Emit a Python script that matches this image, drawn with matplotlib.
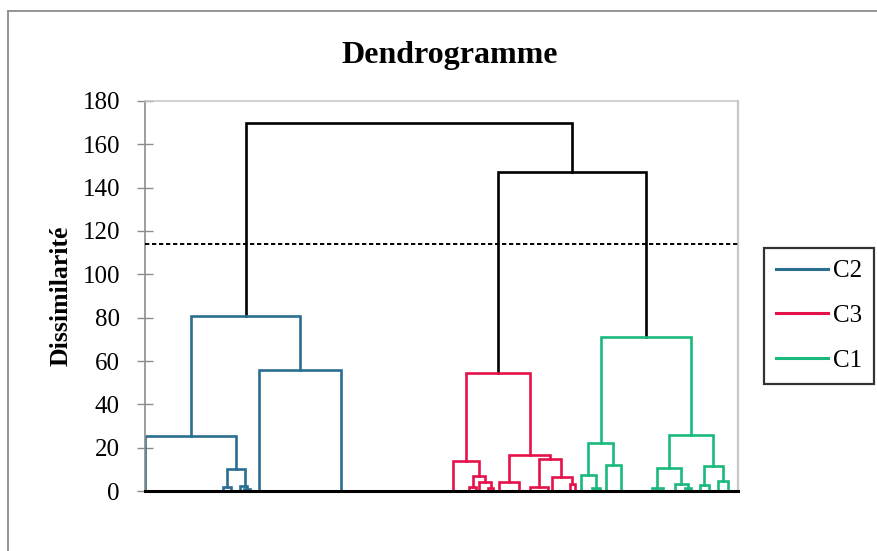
import matplotlib
matplotlib.use("Agg")
import matplotlib.pyplot as plt
from matplotlib.lines import Line2D

# ---- data (x = leaf-axis position, heights = dissimilarity) ----
title = "Dendrogramme"
ylabel = "Dissimilarité"
y_ticks = [0, 20, 40, 60, 80, 100, 120, 140, 160, 180]
cut_height = 114
legend_labels = ["C2", "C3", "C1"]
cluster_colors = {"C2": "#2a6f91", "C3": "#e5124a", "C1": "#19b97c", "top": "#000000"}

# each link: left x, right x, link height, left leg bottom, right leg bottom, cluster
link_xl = [100.7, 353.0,
           45.7, 0.0, 82.0, 78.0, 95.0, 99.0, 114.3,
           320.7, 307.7, 327.7, 324.0, 334.3, 343.0, 364.0, 354.3, 394.0, 385.0, 406.7, 424.5,
           455.7, 443.3, 435.7, 447.0, 460.7, 524.3, 512.3, 507.3, 530.0, 539.6, 559.0, 554.5, 572.5]
link_xr = [427.3, 501.0,
           155.0, 91.0, 100.0, 86.0, 102.0, 105.0, 195.7,
           385.0, 334.3, 340.0, 331.4, 345.7, 348.4, 405.0, 373.7, 416.0, 403.0, 427.3, 430.1,
           546.3, 468.3, 451.0, 455.0, 475.9, 568.3, 536.3, 517.6, 542.6, 545.6, 577.6, 563.5, 582.7]
link_h = [169.7, 147.0,
          81.0, 25.4, 10.0, 2.0, 2.5, 1.0, 56.0,
          54.6, 14.0, 7.0, 2.0, 4.3, 1.5, 16.6, 4.3, 14.6, 2.0, 6.3, 3.2,
          70.9, 22.0, 7.4, 1.5, 12.0, 25.7, 10.8, 1.5, 3.2, 1.5, 11.7, 3.0, 4.8]
link_hl = [81.0, 54.6,
           25.4, 0.0, 2.0, 0.0, 0.0, 0.0, 0.0,
           14.0, 0.0, 2.0, 0.0, 0.0, 0.0, 4.3, 0.0, 2.0, 0.0, 0.0, 0.0,
           22.0, 7.4, 0.0, 0.0, 0.0, 10.8, 1.5, 0.0, 0.0, 0.0, 3.0, 0.0, 0.0]
link_hr = [147.0, 70.9,
           56.0, 10.0, 2.5, 0.0, 1.0, 0.0, 0.0,
           16.6, 7.0, 4.3, 0.0, 2.0, 0.0, 14.6, 0.0, 6.3, 0.0, 3.2, 0.0,
           25.7, 12.0, 1.5, 0.0, 0.0, 11.7, 3.2, 0.0, 1.5, 0.0, 4.8, 0.0, 0.0]
link_cluster = ["top", "top",
                "C2", "C2", "C2", "C2", "C2", "C2", "C2",
                "C3", "C3", "C3", "C3", "C3", "C3", "C3", "C3", "C3", "C3", "C3", "C3",
                "C1", "C1", "C1", "C1", "C1", "C1", "C1", "C1", "C1", "C1", "C1", "C1", "C1"]
x_range = (0, 593)

# ---- figure ----
serif = ["Liberation Serif", "DejaVu Serif"]
plt.rcParams["font.family"] = serif
W, H = 878, 551
fig = plt.figure(figsize=(W / 100, H / 100), dpi=100)
ax = fig.add_axes([145 / W, 1 - 491 / H, (738 - 145) / W, (491 - 101) / H])

for xl, xr, h, hl, hr, c in zip(link_xl, link_xr, link_h, link_hl, link_hr, link_cluster):
    ax.plot([xl, xl, xr, xr], [hl, h, h, hr], color=cluster_colors[c], lw=1.9,
            solid_joinstyle="miter", zorder=2)

ax.axhline(cut_height, color="black", lw=1.4, ls=(0, (2.2, 1.4)), zorder=3)

ax.set_xlim(*x_range)
ax.set_ylim(0, 180)
ax.set_yticks(y_ticks)
ax.set_xticks([])
ax.tick_params(axis="y", direction="inout", length=11, width=1, color="#8c8c8c",
               labelsize=18, pad=12.5)
for lab in ax.get_yticklabels():
    lab.set_fontfamily(serif)

ax.spines["left"].set_color("#8c8c8c")
ax.spines["left"].set_linewidth(1.2)
ax.spines["top"].set_color("#c8c8c8")
ax.spines["right"].set_color("#c8c8c8")
ax.spines["top"].set_linewidth(1.2)
ax.spines["right"].set_linewidth(1.6)
ax.spines["bottom"].set_color("black")
ax.spines["bottom"].set_linewidth(2.2)
ax.spines["bottom"].set_zorder(4)

ax.set_ylabel(ylabel, fontsize=18.5, fontweight="bold")
ax.yaxis.set_label_coords(-(145 - 73) / (738 - 145), (491 - 296) / (491 - 101))
fig.text(450 / W, 1 - 55 / H, title, ha="center", va="center",
         fontsize=23, fontweight="bold")

handles = [Line2D([0], [0], color=cluster_colors[k], lw=2.2) for k in legend_labels]
leg = fig.legend(handles, legend_labels, loc="upper left",
                 bbox_to_anchor=(764 / W, 1 - 248 / H), borderaxespad=0,
                 fontsize=18, frameon=True, fancybox=False, edgecolor="black",
                 handlelength=2.1, handletextpad=0.2, labelspacing=0.89,
                 borderpad=0.47)
leg.get_frame().set_linewidth(1.6)

# outer chart frame (left and top edges visible)
fig.add_artist(Line2D([8 / W, 8 / W], [0, 1 - 11 / H], color="#8c8c8c", lw=1.3,
                      transform=fig.transFigure))
fig.add_artist(Line2D([8 / W, 1], [1 - 11 / H, 1 - 11 / H], color="#8c8c8c", lw=1.3,
                      transform=fig.transFigure))

fig.savefig("out.png", dpi=100)
